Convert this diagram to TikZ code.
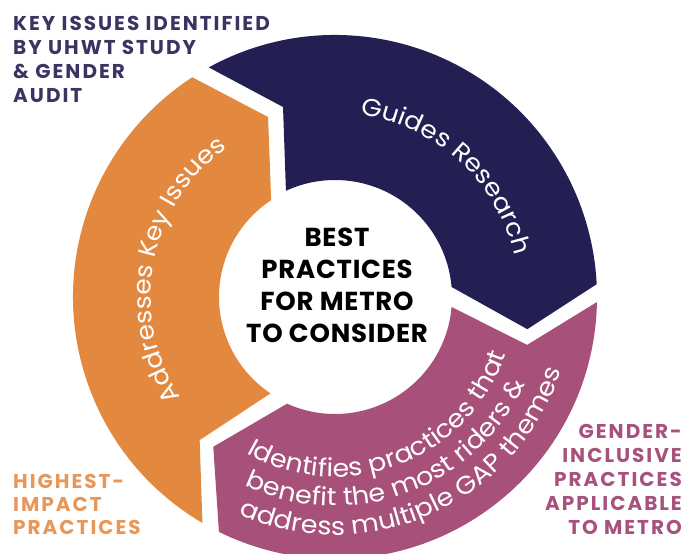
\documentclass[tikz,border=0pt]{standalone}
\usepackage{fontspec}
\setmainfont{Poppins}
\newfontfamily\ringfont{Poppins}[FakeStretch=1.08]
\newfontfamily\labelfont{Poppins}[LetterSpace=10]
\newfontfamily\hubfont{Poppins}[LetterSpace=3]
\usetikzlibrary{decorations.text}

\definecolor{ringnavy}{HTML}{241F52}
\definecolor{ringorange}{HTML}{E3893F}
\definecolor{ringpink}{HTML}{A75079}
\definecolor{labnavy}{HTML}{3A3463}
\definecolor{laborange}{HTML}{E8975A}
\definecolor{labpink}{HTML}{A7517D}

\tikzset{
  corner label/.style={font=\labelfont\fontsize{20}{24}\selectfont\bfseries, inner sep=0pt},
  center label/.style={font=\hubfont\fontsize{26}{32}\selectfont\bfseries, align=center, text=black, inner sep=0pt},
  ring text/.style={decorate, decoration={text along path, text align=center, text color=white}},
}

\begin{document}
\begin{tikzpicture}[x=1pt,y=1pt]
\useasboundingbox (0,0) rectangle (688,554);
\clip (0,0) rectangle (688,554);

% the three arrow segments of the cycle, centred on the hub
\begin{scope}[shift={(335,257)}]
  \coordinate (hub) at (0,0);
  % navy: top-left to right
  \fill[ringnavy] (118.8:262) arc[start angle=118.8, end angle=2.8, radius=262]
    -- (-9.5:195) -- (4.9:117) arc[start angle=4.9, end angle=114.8, radius=117]
    -- (105.3:197) -- cycle;
  % pink: right round the bottom
  \fill[ringpink] (-1.1:262) arc[start angle=-1.1, end angle=-116.3, radius=262]
    -- (-129.1:193) -- (-114.2:117) arc[start angle=-114.2, end angle=-4.9, radius=117]
    -- (-14:198) -- cycle;
  % orange: bottom-left up to the top
  \fill[ringorange] (-120.4:262) arc[start angle=-120.4, end angle=-237, radius=262]
    -- (-249.6:192) -- (-236.6:116) arc[start angle=-236.6, end angle=-123.8, radius=116]
    -- (-133.4:197) -- cycle;

  % curved captions
  \path[ring text, decoration={text={|\ringfont\fontsize{24.5}{24.5}\selectfont|Guides Research}}]
    (85:184) arc[start angle=85, end angle=10, radius=184];
  \path[ring text, decoration={text={|\ringfont\fontsize{24.5}{24.5}\selectfont|Addresses Key Issues}}]
    (222:184) arc[start angle=222, end angle=117, radius=184];
  \path[ring text, decoration={text={|\ringfont\fontsize{25}{25}\selectfont|Identifies practices that}}]
    (-129:180) arc[start angle=-129, end angle=-9, radius=180];
  \path[ring text, decoration={text={|\ringfont\fontsize{25}{25}\selectfont|benefit the most riders {\&}}}]
    (-130:209) arc[start angle=-130, end angle=-10, radius=209];
  \path[ring text, decoration={text={|\ringfont\fontsize{25}{25}\selectfont|address multiple GAP themes}}]
    (-126:238) arc[start angle=-126, end angle=-6, radius=238];
\end{scope}

\node[center label] (best) at (337,269) {BEST\\PRACTICES\\FOR METRO\\TO CONSIDER};

\node[corner label, text=labnavy, anchor=north west, align=left] (issues) at (13,538)
  {KEY ISSUES IDENTIFIED\\BY UHWT STUDY\\\& GENDER\\AUDIT};
\node[corner label, text=laborange, anchor=north west, align=left,
      font=\labelfont\fontsize{20}{23}\selectfont\bfseries] (impact) at (13,80)
  {HIGHEST-\\IMPACT\\PRACTICES};
\node[corner label, text=labpink, anchor=north east, align=right] (inclusive) at (682,130)
  {GENDER-\\INCLUSIVE\\PRACTICES\\APPLICABLE\\TO METRO};
\end{tikzpicture}
\end{document}
